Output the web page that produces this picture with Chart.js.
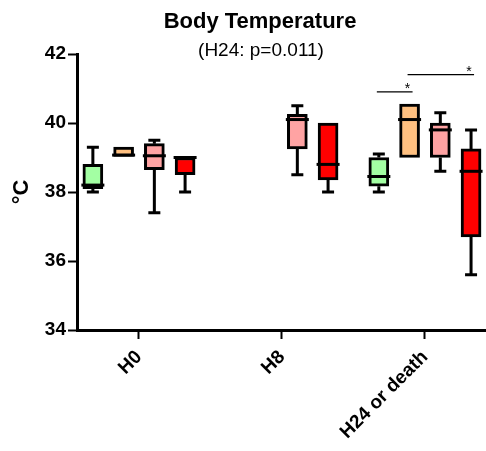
<!DOCTYPE html>
<html><head><meta charset="utf-8">
<script src="https://cdn.jsdelivr.net/npm/chart.js@4.4.1/dist/chart.umd.min.js"></script>
<style>html,body{margin:0;padding:0;background:#fff}canvas{display:block}</style>
</head><body>
<canvas id="c" width="486" height="451"></canvas>
<script>
const chartTitle = 'Body Temperature';
const chartSubtitle = '(H24: p=0.011)';
const yAxisTitle = '°C';
const categories = ['H0', 'H8', 'H24 or death'];
const seriesNames = ['Group 1', 'Group 2', 'Group 3', 'Group 4'];
const seriesColors = ['#a3ffa3', '#ffc080', '#ffa3a3', '#ff0000'];
// each entry: [min, q1, median, q3, max]; null = no data
const group1 = [[38.0, 38.1, 38.2, 38.8, 39.3], null, [38.0, 38.17, 38.45, 39.0, 39.1]];
const group2 = [[39.03, 39.03, 39.07, 39.3, 39.3], null, [39.0, 39.0, 40.1, 40.55, 40.55]];
const group3 = [[37.4, 38.65, 39.05, 39.4, 39.5], [38.5, 39.25, 40.1, 40.25, 40.5], [38.6, 39.0, 39.8, 40.0, 40.3]];
const group4 = [[38.0, 38.5, 39.0, 39.0, 39.0], [38.0, 38.35, 38.8, 40.0, 40.0], [35.6, 36.7, 38.6, 39.25, 39.8]];
const yMin = 34, yMax = 42, yStep = 2;
// significance brackets: category index, from series, to series, height, label
const sigCategory = [2, 2];
const sigFrom = [0, 1];
const sigTo = [1, 3];
const sigY = [40.9, 41.4];
const sigLabel = ['*', '*'];

const allSeries = [group1, group2, group3, group4];
const SLOT = 0.215;
const slotX = (c, s) => c + (s - (allSeries.length - 1) / 2) * SLOT;

const datasets = allSeries.map((g, s) => ({
  label: seriesNames[s],
  data: g.map((v, c) => v ? { x: slotX(c, s), y: [v[1], v[3]], stats: v } : null).filter(Boolean),
  backgroundColor: seriesColors[s],
  borderColor: '#000',
  borderWidth: 3,
  borderSkipped: false,
  grouped: false,
  maxBarThickness: 20,
  categoryPercentage: 1,
  barPercentage: 1
}));

const boxPlugin = {
  id: 'boxparts',
  beforeDatasetsDraw(chart) {
    const ctx = chart.ctx, xs = chart.scales.x, ys = chart.scales.y;
    ctx.save();
    ctx.strokeStyle = '#000';
    ctx.lineWidth = 3;
    ctx.lineCap = 'butt';
    chart.data.datasets.forEach(ds => {
      ds.data.forEach(p => {
        const [mn, q1, md, q3, mx] = p.stats;
        const x = xs.getPixelForValue(p.x);
        ctx.beginPath();
        if (mx > q3) {
          ctx.moveTo(x, ys.getPixelForValue(q3)); ctx.lineTo(x, ys.getPixelForValue(mx));
          ctx.moveTo(x - 6, ys.getPixelForValue(mx)); ctx.lineTo(x + 6, ys.getPixelForValue(mx));
        }
        if (mn < q1) {
          ctx.moveTo(x, ys.getPixelForValue(q1)); ctx.lineTo(x, ys.getPixelForValue(mn));
          ctx.moveTo(x - 6, ys.getPixelForValue(mn)); ctx.lineTo(x + 6, ys.getPixelForValue(mn));
        }
        ctx.stroke();
      });
    });
    ctx.restore();
  },
  afterDatasetsDraw(chart) {
    const ctx = chart.ctx, xs = chart.scales.x, ys = chart.scales.y;
    ctx.save();
    ctx.strokeStyle = '#000';
    ctx.lineWidth = 3;
    chart.data.datasets.forEach(ds => {
      ds.data.forEach(p => {
        const x = xs.getPixelForValue(p.x);
        const y = ys.getPixelForValue(p.stats[2]);
        ctx.beginPath();
        ctx.moveTo(x - 11.5, y); ctx.lineTo(x + 11.5, y);
        ctx.stroke();
      });
    });
    // significance brackets
    ctx.lineWidth = 1.3;
    ctx.fillStyle = '#000';
    ctx.font = '14px "Liberation Sans", Arial, sans-serif';
    ctx.textAlign = 'center';
    ctx.textBaseline = 'alphabetic';
    sigY.forEach((v, i) => {
      const x1 = xs.getPixelForValue(slotX(sigCategory[i], sigFrom[i])) - 2;
      const x2 = xs.getPixelForValue(slotX(sigCategory[i], sigTo[i])) + 3;
      const y = ys.getPixelForValue(v);
      ctx.beginPath();
      ctx.moveTo(x1, y); ctx.lineTo(x2, y);
      ctx.stroke();
      ctx.fillText(sigLabel[i], x2 - 5, y + 1);
    });
    ctx.restore();
  },
  afterDraw(chart) {
    const ctx = chart.ctx;
    ctx.save();
    ctx.fillStyle = '#000';
    ctx.textAlign = 'center';
    ctx.textBaseline = 'alphabetic';
    ctx.font = 'bold 22px "Liberation Sans", Arial, sans-serif';
    ctx.fillText(chartTitle, 260, 28);
    ctx.font = '19px "Liberation Sans", Arial, sans-serif';
    ctx.fillText(chartSubtitle, 261, 56);
    ctx.restore();
  }
};

new Chart(document.getElementById('c'), {
  type: 'bar',
  data: { datasets },
  plugins: [boxPlugin],
  options: {
    responsive: false,
    animation: false,
    devicePixelRatio: 1,
    layout: { padding: { top: 54, right: 0, left: 0, bottom: 0 } },
    plugins: { legend: { display: false }, tooltip: { enabled: false }, title: { display: false } },
    scales: {
      x: {
        type: 'linear',
        offset: false,
        min: -0.4335,
        max: 2.427,
        afterBuildTicks: s => { s.ticks = categories.map((_, i) => ({ value: i })); },
        afterFit: s => { s.height = 121; },
        ticks: {
          autoSkip: false,
          minRotation: 45, maxRotation: 45,
          padding: 7,
          color: '#000',
          font: { family: '"Liberation Sans", Arial, sans-serif', size: 19, weight: 'bold' },
          callback: v => categories[v]
        },
        grid: { offset: false, drawOnChartArea: false, drawTicks: true, tickLength: 9, tickWidth: 2, tickColor: '#000' },
        border: { display: true, width: 3, color: '#000' }
      },
      y: {
        min: yMin, max: yMax,
        afterFit: s => { s.width = 77; },
        ticks: {
          stepSize: yStep,
          padding: 2,
          color: '#000',
          font: { family: '"Liberation Sans", Arial, sans-serif', size: 19, weight: 'bold' }
        },
        title: {
          display: true, text: yAxisTitle, color: '#000',
          font: { family: '"Liberation Sans", Arial, sans-serif', size: 22, weight: 'bold' },
          padding: { top: 9, bottom: 0 }
        },
        grid: { drawOnChartArea: false, drawTicks: true, tickLength: 9, tickWidth: 2, tickColor: '#000' },
        border: { display: true, width: 3, color: '#000' }
      }
    }
  }
});
</script>
</body></html>
